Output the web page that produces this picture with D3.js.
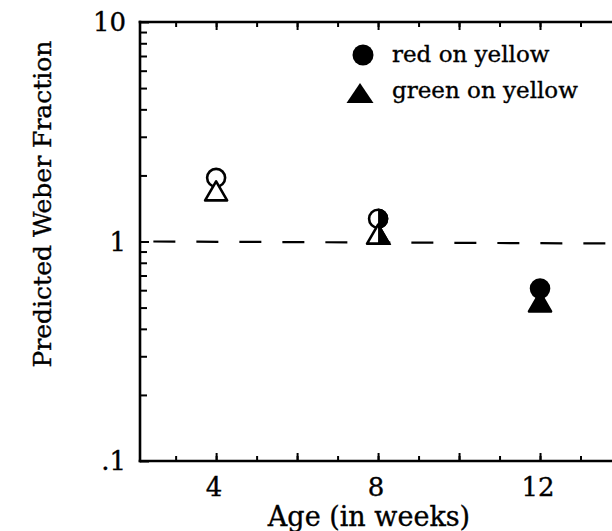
<!DOCTYPE html>
<html>
<head>
<meta charset="utf-8">
<script src="https://cdn.jsdelivr.net/npm/d3@7"></script>
<style>
  html, body { margin: 0; padding: 0; background: #fff; }
  svg { display: block; }
  text { font-family: "DejaVu Serif", "Liberation Serif", serif; fill: #000; stroke: #000; stroke-width: 0.35; }
</style>
</head>
<body>
<svg id="chart" width="612" height="531"></svg>
<script>
// Predicted Weber fraction by age, two chromatic conditions
const ages = [4, 8, 12];
const redOnYellow = [1.95, 1.27, 0.61];
const greenOnYellow = [1.7, 1.08, 0.53];
const seriesNames = ["red on yellow", "green on yellow"];
const xTickLabels = [4, 8, 12];
const yTickLabels = [".1", "1", "10"];
const yTickValues = [0.1, 1, 10];
const referenceLevel = 1;

const svg = d3.select("#chart");
const plotLeft = 140, plotTop = 22, plotBottom = 461, plotRight = 621;

const x = d3.scaleLinear().domain([2.12, 14]).range([plotLeft, plotRight]);
const y = d3.scaleLog().domain([0.1, 10]).range([plotBottom, plotTop]);

// marker fill depends on age: open, split, solid
const fillMode = age => age <= 4 ? "open" : age <= 8 ? "half" : "solid";

const ink = "#000";

// frame: left, top and bottom edges (the right edge runs past the page)
const frame = svg.append("g").attr("stroke", ink).attr("stroke-width", 2.6)
  .attr("stroke-linecap", "square");
frame.append("line").attr("x1", plotLeft).attr("x2", plotLeft).attr("y1", plotTop).attr("y2", plotBottom);
frame.append("line").attr("x1", plotLeft).attr("x2", plotRight).attr("y1", plotTop).attr("y2", plotTop);
frame.append("line").attr("x1", plotLeft).attr("x2", plotRight).attr("y1", plotBottom).attr("y2", plotBottom);

// x ticks (inward, bottom and top)
const minorX = d3.range(3, 14);
const majorX = d3.range(4, 14, 2);
function xAxes(axisFn, yPos) {
  svg.append("g").attr("transform", `translate(0,${yPos})`)
    .call(axisFn(x).tickValues(minorX).tickSize(-5).tickFormat(""))
    .call(g => g.select(".domain").remove())
    .selectAll("line").attr("stroke", ink).attr("stroke-width", 2);
  svg.append("g").attr("transform", `translate(0,${yPos})`)
    .call(axisFn(x).tickValues(majorX).tickSize(-8).tickFormat(""))
    .call(g => g.select(".domain").remove())
    .selectAll("line").attr("stroke", ink).attr("stroke-width", 2);
}
xAxes(d3.axisBottom, plotBottom);
xAxes(d3.axisTop, plotTop);

// x tick labels
svg.append("g").selectAll("text").data(xTickLabels).join("text")
  .attr("x", d => x(d) - 2).attr("y", 496)
  .attr("text-anchor", "middle").attr("font-size", 26)
  .text(d => d);

// y ticks (log, inward)
const minorY = [];
[0.1, 1].forEach(dec => { for (let k = 2; k <= 9; k++) minorY.push(dec * k); });
svg.append("g").attr("transform", `translate(${plotLeft},0)`)
  .call(d3.axisLeft(y).tickValues(minorY).tickSize(-7).tickFormat(""))
  .call(g => g.select(".domain").remove())
  .selectAll("line").attr("stroke", ink).attr("stroke-width", 2);
svg.append("g").attr("transform", `translate(${plotLeft},0)`)
  .call(d3.axisLeft(y).tickValues(yTickValues).tickSize(-9).tickFormat(""))
  .call(g => g.select(".domain").remove())
  .selectAll("line").attr("stroke", ink).attr("stroke-width", 2);

svg.append("g").selectAll("text").data(yTickValues).join("text")
  .attr("x", 126).attr("y", d => y(d) + 9)
  .attr("text-anchor", "end").attr("font-size", 26)
  .text((d, i) => yTickLabels[i]);

// axis titles
svg.append("text")
  .attr("x", 369).attr("y", 526)
  .attr("text-anchor", "middle").attr("font-size", 27)
  .text("Age (in weeks)");
svg.append("text")
  .attr("transform", "translate(51,204) rotate(-90)")
  .attr("text-anchor", "middle").attr("font-size", 25)
  .text("Predicted Weber Fraction");

// reference line at a fraction of 1
svg.append("line")
  .attr("x1", x(2.45)).attr("x2", 612)
  .attr("y1", y(referenceLevel)).attr("y2", y(referenceLevel) + 2)
  .attr("stroke", ink).attr("stroke-width", 2.2)
  .attr("stroke-dasharray", "22,21");

// clip paths for the split-fill markers (right half filled)
const defs = svg.append("defs");

const circleR = 9;
const triPath = (cx, cy, w, h) =>
  `M${cx},${cy - h / 2}L${cx + w / 2},${cy + h / 2}L${cx - w / 2},${cy + h / 2}Z`;

function drawMarker(g, kind, cx, cy, mode, id) {
  const shape = kind === "circle"
    ? sel => sel.append("circle").attr("cx", cx).attr("cy", cy).attr("r", circleR)
    : sel => sel.append("path").attr("d", triPath(cx, cy, 22, 19));
  shape(g).attr("fill", mode === "solid" ? ink : "#fff")
    .attr("stroke", ink).attr("stroke-width", 2.6).attr("stroke-linejoin", "round");
  if (mode === "half") {
    defs.append("clipPath").attr("id", id)
      .append("rect").attr("x", cx).attr("y", cy - 20).attr("width", 20).attr("height", 40);
    shape(g).attr("fill", ink).attr("stroke", ink).attr("stroke-width", 2.6)
      .attr("clip-path", `url(#${id})`);
  }
}

const marks = svg.append("g");
ages.forEach((a, i) => {
  const mode = fillMode(a);
  drawMarker(marks, "circle", x(a), y(redOnYellow[i]), mode, "hc" + i);
  drawMarker(marks, "triangle", x(a), y(greenOnYellow[i]), mode, "ht" + i);
});

// legend
const legend = svg.append("g");
legend.append("circle").attr("cx", 363).attr("cy", 55).attr("r", 10.5).attr("fill", ink);
legend.append("path").attr("d", triPath(360, 93, 27, 20)).attr("fill", ink);
legend.selectAll("text").data(seriesNames).join("text")
  .attr("x", 392).attr("y", (d, i) => 62 + i * 36)
  .attr("font-size", 23)
  .text(d => d);
</script>
</body>
</html>
